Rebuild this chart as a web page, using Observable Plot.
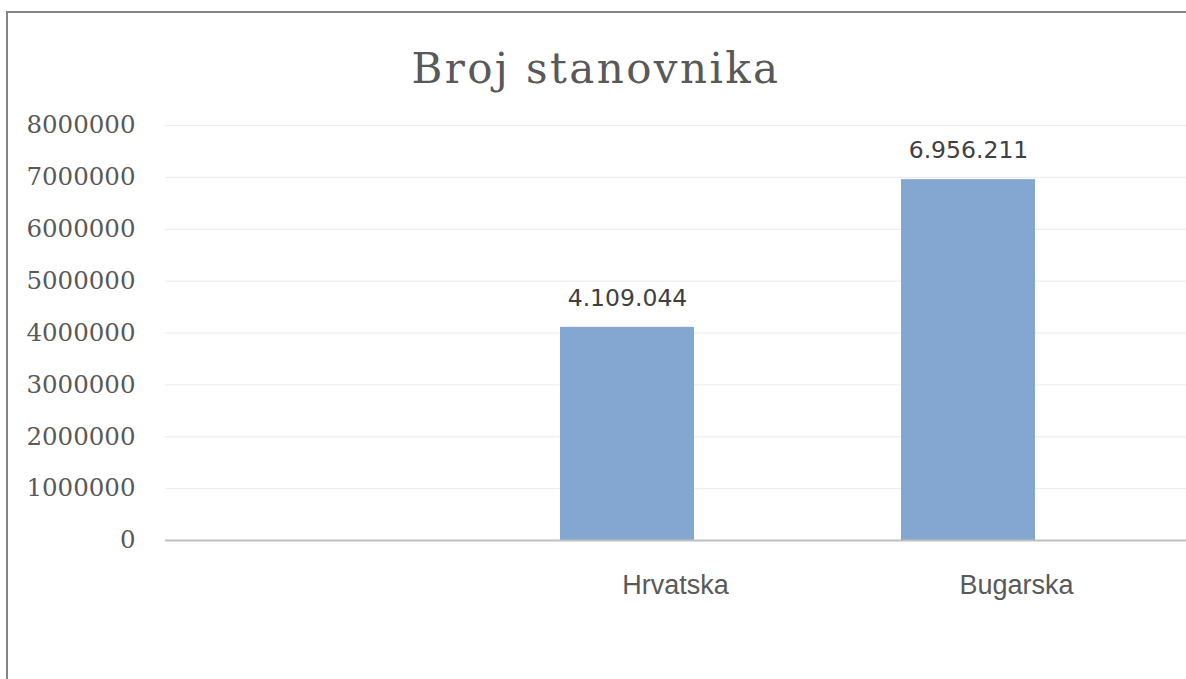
<!DOCTYPE html>
<html>
<head>
<meta charset="utf-8">
<script src="https://cdn.jsdelivr.net/npm/d3@7"></script>
<script src="https://cdn.jsdelivr.net/npm/@observablehq/plot@0.6"></script>
<style>
  html, body { margin: 0; padding: 0; width: 1186px; height: 679px; overflow: hidden; background: #fff; }
  #frame { position: absolute; left: 6px; top: 11px; width: 1300px; height: 800px; border: 2px solid #858585; box-sizing: border-box; }
  #title { position: absolute; left: 0; width: 1192px; top: 44px; text-align: center; font-family: "DejaVu Serif", serif; font-size: 42px; letter-spacing: 2.4px; color: #595959; }
  #chart { position: absolute; left: 0; top: 0; }
</style>
</head>
<body>
<div id="frame"></div>
<div id="title">Broj stanovnika</div>
<div id="chart"></div>
<script>
const title = "Broj stanovnika";
const categories = ["", "Hrvatska", "Bugarska"];
const values = [null, 4109044, 6956211];
const yTicks = [0, 1000000, 2000000, 3000000, 4000000, 5000000, 6000000, 7000000, 8000000];

const data = categories.map((c, i) => ({category: c, value: values[i]})).filter(d => d.value != null);
const hr = d3.formatLocale({decimal: ",", thousands: ".", grouping: [3], currency: ["", ""]});
const fmt = hr.format(",d");

const plot = Plot.plot({
  width: 1186,
  height: 679,
  marginLeft: 165,
  marginRight: 0,
  marginTop: 125,
  marginBottom: 139,
  style: {background: "transparent", overflow: "visible"},
  x: {domain: categories, range: [115.5, 1138.5], paddingInner: 0.607, paddingOuter: 0.3035, label: null},
  y: {domain: [0, 8000000], label: null},
  marks: [
    Plot.ruleY(yTicks.filter(d => d > 0), {stroke: "#ececec", strokeWidth: 1}),
    Plot.barY(data, {x: "category", y: "value", fill: "#84a7d1"}),
    Plot.ruleY([0], {stroke: "#c0c0c0", strokeWidth: 2}),
    Plot.text(data, {x: "category", y: "value", text: d => fmt(d.value), dy: -29, fill: "#404040", fontSize: 23.5, fontFamily: "DejaVu Sans"}),
    Plot.axisY({ticks: yTicks, tickSize: 0, tickPadding: 30, tickFormat: d => String(d), fontSize: 24.5, fontFamily: "DejaVu Serif", color: "#595959", label: null}),
    Plot.axisX({tickSize: 0, tickPadding: 34, dx: 48, fontSize: 27, fontFamily: "Liberation Sans", color: "#595959", label: null})
  ]
});
document.getElementById("chart").appendChild(plot);
</script>
</body>
</html>
